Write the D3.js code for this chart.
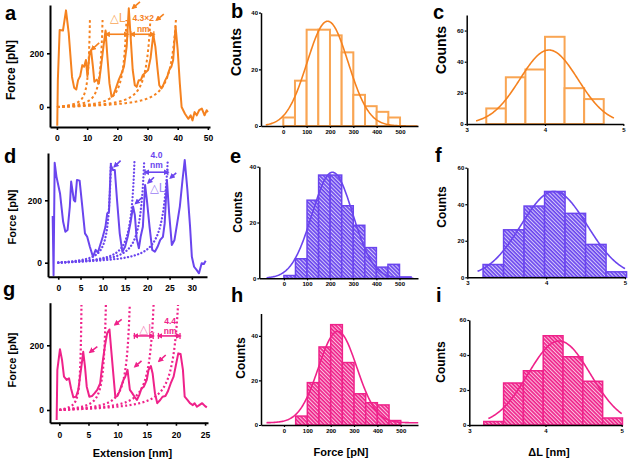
<!DOCTYPE html>
<html><head><meta charset="utf-8">
<script src="https://cdn.jsdelivr.net/npm/d3@7"></script>
<style>
body{margin:0;background:#fff}
svg{display:block;font-family:"Liberation Sans",Arial,Helvetica,sans-serif}
</style></head><body>
<svg id="chart" width="631" height="464"></svg>
<script>
// ---------------- DATA ----------------
// Force-extension traces (x: extension nm, F: force pN)
const aTraceX = [0.1,0.3,0.9,2,3,3.9,5,5.7,6.4,7,7.7,8.4,9,9.6,10.1,10.8,11.3,11.9,12.4,13.2,13.9,14.6,15.4,16.1,16.7,17.4,18.1,18.7,19.6,20.5,21.4,22.2,23.1,23.8,24.4,25.1,25.8,26.4,27.1,27.8,28.4,29.3,30.2,31,31.9,32.6,33.3,33.9,34.6,35.2,35.9,36.6,37.2,37.9,38.5,39.3,40,40.7,41.3,42.4,43.5,44.3,44.9,45.6,46.3,47.1,48,48.9,49.6,50];
const aTraceF = [-70,100,287,285,360,275,112,72,65,100,115,156,150,175,115,200,212,152,94,102,88,150,225,285,188,88,38,44,72,102,125,150,225,368,262,138,81,75,100,100,118,128,138,181,269,225,144,81,69,81,100,115,138,150,175,300,212,88,0,-25,-44,-31,-50,-19,-31,-12,-6,-31,-12,-19];
const aContour = [12, 16.6, 25.3, 34, 43.3];
const aXTicks = [0,10,20,30,40,50];
const forceTicksTrace = [0,200];

const dTraceX = [-1.25,-1.05,-0.8,-0.4,0.4,1.1,1.6,2.1,2.6,2.9,3.5,3.8,4.2,4.8,5.4,6,6.5,7.1,7.8,8.4,8.9,9.3,10,10.6,11,11.4,11.8,12.3,12.7,13.2,13.8,14.4,15,15.6,16.2,16.8,17.2,17.6,18.1,18.5,19,19.5,19.9,20.5,21.1,21.7,22.3,22.9,23.5,23.9,24.4,24.9,25.5,26.1,26.7,27.3,27.9,28.4,29,29.6,30,30.5,31.1,31.6,32.2,32.7,33.1];
const dTraceF = [150,-40,320,276,222,131,99,105,180,260,201,196,265,263,180,94,83,51,19,41,32,51,83,115,158,164,313,297,297,201,94,35,51,83,126,180,153,78,46,83,115,249,201,115,41,35,51,73,83,126,265,158,57,73,126,180,265,329,233,115,19,-13,-24,-34,-2,-4,6];
const dContour = [13.0, 18.8, 21.2, 27.0];
const dXTicks = [0,5,10,15,20,25,30];

const gTraceX = [-0.46,-0.34,0.11,0.46,0.8,1.26,1.66,2,2.4,2.86,3.26,3.55,3.9,4.1,4.4,4.7,5.15,5.6,6.06,6.5,7,7.4,7.8,8.2,8.6,8.9,9.3,9.6,9.95,10.3,10.6,11,11.3,11.7,12.1,12.5,12.9,13.3,13.7,14.1,14.5,15,15.3,15.7,16,16.4,16.8,17.3,17.7,18.2,18.6,19.1,19.6,20,20.4,20.8,21.2,21.5,21.97,22.4,22.9,23.2,23.6,24,24.5,25,25.3];
const gTraceF = [-31,124,188,155,103,93,98,67,39,41,62,103,150,180,134,72,41,43,52,62,82,144,196,237,249,186,103,41,43,57,72,93,103,124,62,52,41,31,46,67,72,93,124,136,113,52,21,31,41,43,57,82,103,139,175,173,124,41,31,21,15,21,10,15,21,12,8];
const gContour = [4.17, 8.77, 13.27, 17.76, 22.37];
const gXTicks = [0,5,10,15,20,25];

// annotations (data coords): arrows [x1,F1,x2,F2], spans [xStart,xEnd,F],
// labels [text, x, F, isDeltaL]
const aArrows = [[14.0,239,11.5,214],[27.5,392,25.1,368],[35.4,346,33.0,324]];
const aSpans = [[16.2,23.4,271],[24.5,32.1,271]];
const aLabels = [["△L",20.1,330,true],["4.3×2",28.6,328,false],["nm",28.6,288,false]];
const dArrows = [[14.0,327,12.6,308],[18.9,210,17.4,190],[21.5,274,20.2,256],[26.5,288,25.2,272]];
const dSpans = [[19.5,24.6,290]];
const dLabels = [["4.0",22.06,342,false],["nm",22.06,310,false],["△L",22.3,238,true]];
const gArrows = [[6.52,196,5.26,179],[10.7,280,9.55,264],[14.1,152,12.98,134],[18.25,170,17.1,151]];
const gSpans = [[12.87,16.1,229],[17.0,20.7,229]];
const gLabels = [["△L",15.0,249,true],["4.4",19.0,272,false],["nm",19.0,241,false]];

// Histograms of unfolding force (pN)
const forceEdges = [0,50,100,150,200,250,300,350,400,450,500,550];
const bCounts = [3,16,34,34,32,26,11,7,5,3];
const eCounts = [1,7,28,37,37,26,19,11,4,5,0.5];
const hCounts = [0,4,19,35,45,28,14,10,9,2];
const forceTicks = [0,100,200,300,400,500];
// Gaussian fits: [amplitude, mean, sd, baseline, from, to]
const bFit = [37, 190, 88, 0, -75, 575];
const eFit = [38, 210, 88, 0, -75, 560];
const hFit = [41, 230, 82, 1, -75, 575];

// Histograms of contour length increment ΔL (nm)
const cEdges = [3.25,3.5,3.75,4.0,4.25,4.5,4.75];
const cCounts = [10,30,35,56,23,16];
const fEdges = [3.2,3.46,3.72,3.98,4.24,4.5,4.76,5.02];
const fCounts = [7,26,39,47,35,18,3];
const iEdges = [3.19,3.45,3.71,3.97,4.23,4.49,4.75,5.01];
const iCounts = [2,24,31,51,39,25,4];
const dlTicks = [3,4,5];
const cFit = [47.5, 4.05, 0.37, 0, 3.12, 4.88];
const fFit = [47, 4.1, 0.42, 0, 3.13, 5.0];
const iFit = [48, 4.18, 0.41, 0, 3.25, 5.0];

// ---------------- DRAW ----------------
const ORANGE = "#f5821f", ORANGE_L = "#f9a553";
const PURPLE = "#6a45ee", PURPLE_L = "#9a80f4";
const PINK = "#ef228a", PINK_L = "#f47cb6";
const svg = d3.select("#chart");
const defs = svg.append("defs");

function makeHatch(id, color) {
  const p = defs.append("pattern").attr("id", id).attr("patternUnits", "userSpaceOnUse")
    .attr("width", 2.7).attr("height", 2.7).attr("patternTransform", "rotate(-45)");
  p.append("rect").attr("width", 2.7).attr("height", 2.7).attr("fill", color);
  p.append("line").attr("x1", 0.6).attr("y1", -1).attr("x2", 0.6).attr("y2", 4)
    .attr("stroke", "#fff").attr("stroke-width", 0.9).attr("stroke-opacity", 0.85);
}
makeHatch("hatchP", PURPLE);
makeHatch("hatchK", PINK);

function makeMarker(id, color) {
  defs.append("marker").attr("id", id).attr("viewBox", "0 0 10 10")
    .attr("refX", 7).attr("refY", 5).attr("markerWidth", 3.6).attr("markerHeight", 3.6)
    .attr("orient", "auto-start-reverse")
    .append("path").attr("d", "M0,0L10,5L0,10z").attr("fill", color);
}
makeMarker("mO", ORANGE); makeMarker("mP", PURPLE); makeMarker("mK", PINK);

const KT = 4.1, PERSIST = 0.4;
function wlc(r) { return KT / PERSIST * (0.25 / ((1 - r) * (1 - r)) - 0.25 + r); }

function styleAxis(sel, fs, w) {
  sel.select(".domain").attr("stroke", "#000").attr("stroke-width", w);
  sel.selectAll(".tick line").attr("stroke", "#000").attr("stroke-width", w * 0.8);
  sel.selectAll(".tick text").attr("font-size", fs).attr("font-weight", "bold").attr("fill", "#000")
    .attr("font-family", '"Liberation Sans",Arial,sans-serif');
}

function panelLetter(t, px, py) {
  svg.append("text").attr("x", px).attr("y", py).text(t)
    .attr("font-size", 20).attr("font-weight", "bold").attr("fill", "#000");
}
function yTitle(t, px, py, fs) {
  svg.append("text").attr("transform", `translate(${px},${py}) rotate(-90)`)
    .attr("text-anchor", "middle").attr("dominant-baseline", "middle")
    .attr("font-size", fs).attr("font-weight", "bold").text(t);
}

function tracePanel(o) {
  const x = d3.scaleLinear().domain(o.xDomain).range(o.xRange);
  const y = d3.scaleLinear().domain(o.yDomain).range(o.yRange);
  const g = svg.append("g");
  const cid = o.id + "clip";
  defs.append("clipPath").attr("id", cid).append("rect")
    .attr("x", o.xRange[0]).attr("y", o.yRange[1])
    .attr("width", o.xRange[1] - o.xRange[0]).attr("height", o.yRange[0] - o.yRange[1]);
  const line = d3.line().x(d => x(d[0])).y(d => y(d[1]));
  o.contour.forEach(L => {
    const pts = [];
    for (let i = 0; i <= 600; i++) {
      const r = 0.97 * i / 600, F = wlc(r);
      if (F > o.wlcMax) break;
      pts.push([r * L, F]);
    }
    g.append("path").attr("d", line(pts)).attr("fill", "none").attr("stroke", o.color)
      .attr("stroke-width", o.dotW).attr("stroke-dasharray", o.dash).attr("stroke-linecap", o.cap)
      .attr("clip-path", `url(#${cid})`);
  });
  const tr = o.tx.map((v, i) => [v, o.tf[i]]);
  g.append("path").attr("d", line(tr)).attr("fill", "none").attr("stroke", o.color)
    .attr("stroke-width", 2).attr("stroke-linejoin", "round");

  // annotations
  o.arrows.forEach(a => {
    g.append("line").attr("x1", x(a[0])).attr("y1", y(a[1])).attr("x2", x(a[2])).attr("y2", y(a[3]))
      .attr("stroke", o.color).attr("stroke-width", 1.6).attr("marker-end", `url(#${o.marker})`);
  });
  o.spans.forEach(s => {
    g.append("line").attr("x1", x(s[0])).attr("y1", y(s[2])).attr("x2", x(s[1])).attr("y2", y(s[2]))
      .attr("stroke", o.color).attr("stroke-width", 1.6)
      .attr("marker-start", `url(#${o.marker})`).attr("marker-end", `url(#${o.marker})`);
    [s[0], s[1]].forEach(v => g.append("line").attr("x1", x(v)).attr("x2", x(v))
      .attr("y1", y(s[2]) - 3).attr("y2", y(s[2]) + 3).attr("stroke", o.color).attr("stroke-width", 1.3));
  });
  o.labels.forEach(l => {
    g.append("text").attr("x", x(l[1])).attr("y", y(l[2])).text(l[0])
      .attr("text-anchor", "middle").attr("dominant-baseline", "middle")
      .attr("font-size", l[3] ? 11.5 : 8.5).attr("font-weight", l[3] ? "normal" : "bold")
      .attr("font-family", l[3] ? '"DejaVu Sans",sans-serif' : '"Liberation Sans",Arial,sans-serif')
      .attr("fill", l[3] ? o.light : o.color);
  });

  const xa = d3.axisBottom(x).tickValues(o.xTicks).tickSize(3).tickPadding(o.xPad).tickSizeOuter(0);
  styleAxis(svg.append("g").attr("transform", `translate(0,${o.yRange[0]})`).call(xa), 8.5, 2);
  const ya = d3.axisLeft(y).tickValues(forceTicksTrace).tickSize(3).tickPadding(3).tickSizeOuter(0);
  styleAxis(svg.append("g").attr("transform", `translate(${o.xRange[0]},0)`).call(ya), 8.5, 2);
}

tracePanel({id: "a", xDomain: [-2.3, 50.7], xRange: [50, 210], yDomain: [-74.5, 380], yRange: [127, 5],
  tx: aTraceX, tf: aTraceF, contour: aContour, wlcMax: 325, color: ORANGE, light: ORANGE_L,
  dash: "2.6,2.6", cap: "butt", dotW: 2, xTicks: aXTicks, xPad: 4.5, marker: "mO",
  arrows: aArrows, spans: aSpans, labels: aLabels});
tracePanel({id: "d", xDomain: [-2.3, 33.4], xRange: [48, 207], yDomain: [-44.9, 351.6], yRange: [276.7, 153],
  tx: dTraceX, tf: dTraceF, contour: dContour, wlcMax: 335, color: PURPLE, light: PURPLE_L,
  dash: "0.1,3.4", cap: "round", dotW: 2.3, xTicks: dXTicks, xPad: 5, marker: "mP",
  arrows: dArrows, spans: dSpans, labels: dLabels});
tracePanel({id: "g", xDomain: [-1.6, 25.5], xRange: [50, 208], yDomain: [-39.3, 331.7], yRange: [422.7, 302.7],
  tx: gTraceX, tf: gTraceF, contour: gContour, wlcMax: 332, color: PINK, light: PINK_L,
  dash: "2,2.4", cap: "butt", dotW: 2.2, xTicks: gXTicks, xPad: 6, marker: "mK",
  arrows: gArrows, spans: gSpans, labels: gLabels});

function histPanel(o) {
  const x = d3.scaleLinear().domain(o.xDomain).range(o.xRange);
  const y = d3.scaleLinear().domain(o.yDomain).range(o.yRange);
  const g = svg.append("g");
  o.counts.forEach((c, i) => {
    if (c <= 0) return;
    g.append("rect").attr("x", x(o.edges[i])).attr("width", x(o.edges[i + 1]) - x(o.edges[i]))
      .attr("y", y(c)).attr("height", y(0) - y(c))
      .attr("fill", o.fill).attr("stroke", o.barStroke).attr("stroke-width", o.barW);
  });
  const f = o.fit, pts = [];
  for (let i = 0; i <= 200; i++) {
    const v = f[4] + (f[5] - f[4]) * i / 200;
    pts.push([v, f[0] * Math.exp(-((v - f[1]) ** 2) / (2 * f[2] * f[2])) + f[3]]);
  }
  g.append("path").attr("d", d3.line().x(d => x(d[0])).y(d => y(d[1]))(pts))
    .attr("fill", "none").attr("stroke", o.color).attr("stroke-width", 1.6);
  const xa = d3.axisBottom(x).tickValues(o.xTicks).tickFormat(d3.format("d"))
    .tickSize(2).tickPadding(1.5).tickSizeOuter(0);
  styleAxis(svg.append("g").attr("transform", `translate(0,${o.yRange[0]})`).call(xa), 6, 1.5);
  const ya = d3.axisLeft(y).tickValues(o.yTicks).tickFormat(d3.format("d"))
    .tickSize(2).tickPadding(1).tickSizeOuter(0);
  styleAxis(svg.append("g").attr("transform", `translate(${o.xRange[0]},0)`).call(ya), 6, 1.5);
}

histPanel({xDomain: [-95.5, 577], xRange: [261, 418], yDomain: [0, 40], yRange: [126, 12.7],
  edges: forceEdges, counts: bCounts, fit: bFit, fill: "#fff", barStroke: ORANGE_L, barW: 2,
  color: ORANGE, xTicks: forceTicks, yTicks: [0, 20, 40]});
histPanel({xDomain: [-106.5, 580], xRange: [259.3, 418], yDomain: [0, 40], yRange: [278.3, 166.7],
  edges: forceEdges, counts: eCounts, fit: eFit, fill: "url(#hatchP)", barStroke: PURPLE, barW: 1.5,
  color: PURPLE, xTicks: forceTicks, yTicks: [0, 20, 40]});
histPanel({xDomain: [-98.5, 574], xRange: [261, 418], yDomain: [0, 50], yRange: [425, 313.5],
  edges: forceEdges, counts: hCounts, fit: hFit, fill: "url(#hatchK)", barStroke: PINK, barW: 1.5,
  color: PINK, xTicks: forceTicks, yTicks: [0, 20, 40]});
histPanel({xDomain: [3, 5], xRange: [466.7, 623.3], yDomain: [0, 70], yRange: [124, 15],
  edges: cEdges, counts: cCounts, fit: cFit, fill: "#fff", barStroke: ORANGE_L, barW: 2,
  color: ORANGE, xTicks: dlTicks, yTicks: [0, 20, 40, 60]});
histPanel({xDomain: [3, 5], xRange: [467.3, 625], yDomain: [0, 60], yRange: [277.3, 167.7],
  edges: fEdges, counts: fCounts, fit: fFit, fill: "url(#hatchP)", barStroke: PURPLE, barW: 1.5,
  color: PURPLE, xTicks: dlTicks, yTicks: [0, 20, 40, 60]});
histPanel({xDomain: [3, 5], xRange: [469.3, 621.7], yDomain: [0, 60], yRange: [425, 320],
  edges: iEdges, counts: iCounts, fit: iFit, fill: "url(#hatchK)", barStroke: PINK, barW: 1.5,
  color: PINK, xTicks: dlTicks, yTicks: [0, 20, 40, 60]});

// titles
yTitle("Force [pN]", 12, 70, 12);
yTitle("Force [pN]", 13.5, 217, 11);
yTitle("Force [pN]", 13.5, 360, 11);
yTitle("Counts", 237, 52, 14);
yTitle("Counts", 442, 50, 14);
yTitle("Counts", 238.5, 212, 12);
yTitle("Counts", 443, 207, 12);
yTitle("Counts", 242, 358, 12);
yTitle("Counts", 442, 362, 12);
svg.append("text").attr("x", 132.5).attr("y", 456.5).attr("text-anchor", "middle")
  .attr("font-size", 11).attr("font-weight", "bold").text("Extension [nm]");
svg.append("text").attr("x", 341).attr("y", 456).attr("text-anchor", "middle")
  .attr("font-size", 11).attr("font-weight", "bold").text("Force [pN]");
svg.append("text").attr("x", 549).attr("y", 456).attr("text-anchor", "middle")
  .attr("font-size", 11).attr("font-weight", "bold").text("ΔL [nm]");

panelLetter("a", 5, 20); panelLetter("b", 231, 17.5); panelLetter("c", 433, 18.5);
panelLetter("d", 4, 163); panelLetter("e", 230, 163); panelLetter("f", 435, 162);
panelLetter("g", 3, 296); panelLetter("h", 231, 302); panelLetter("i", 436, 302);
</script>
</body></html>
